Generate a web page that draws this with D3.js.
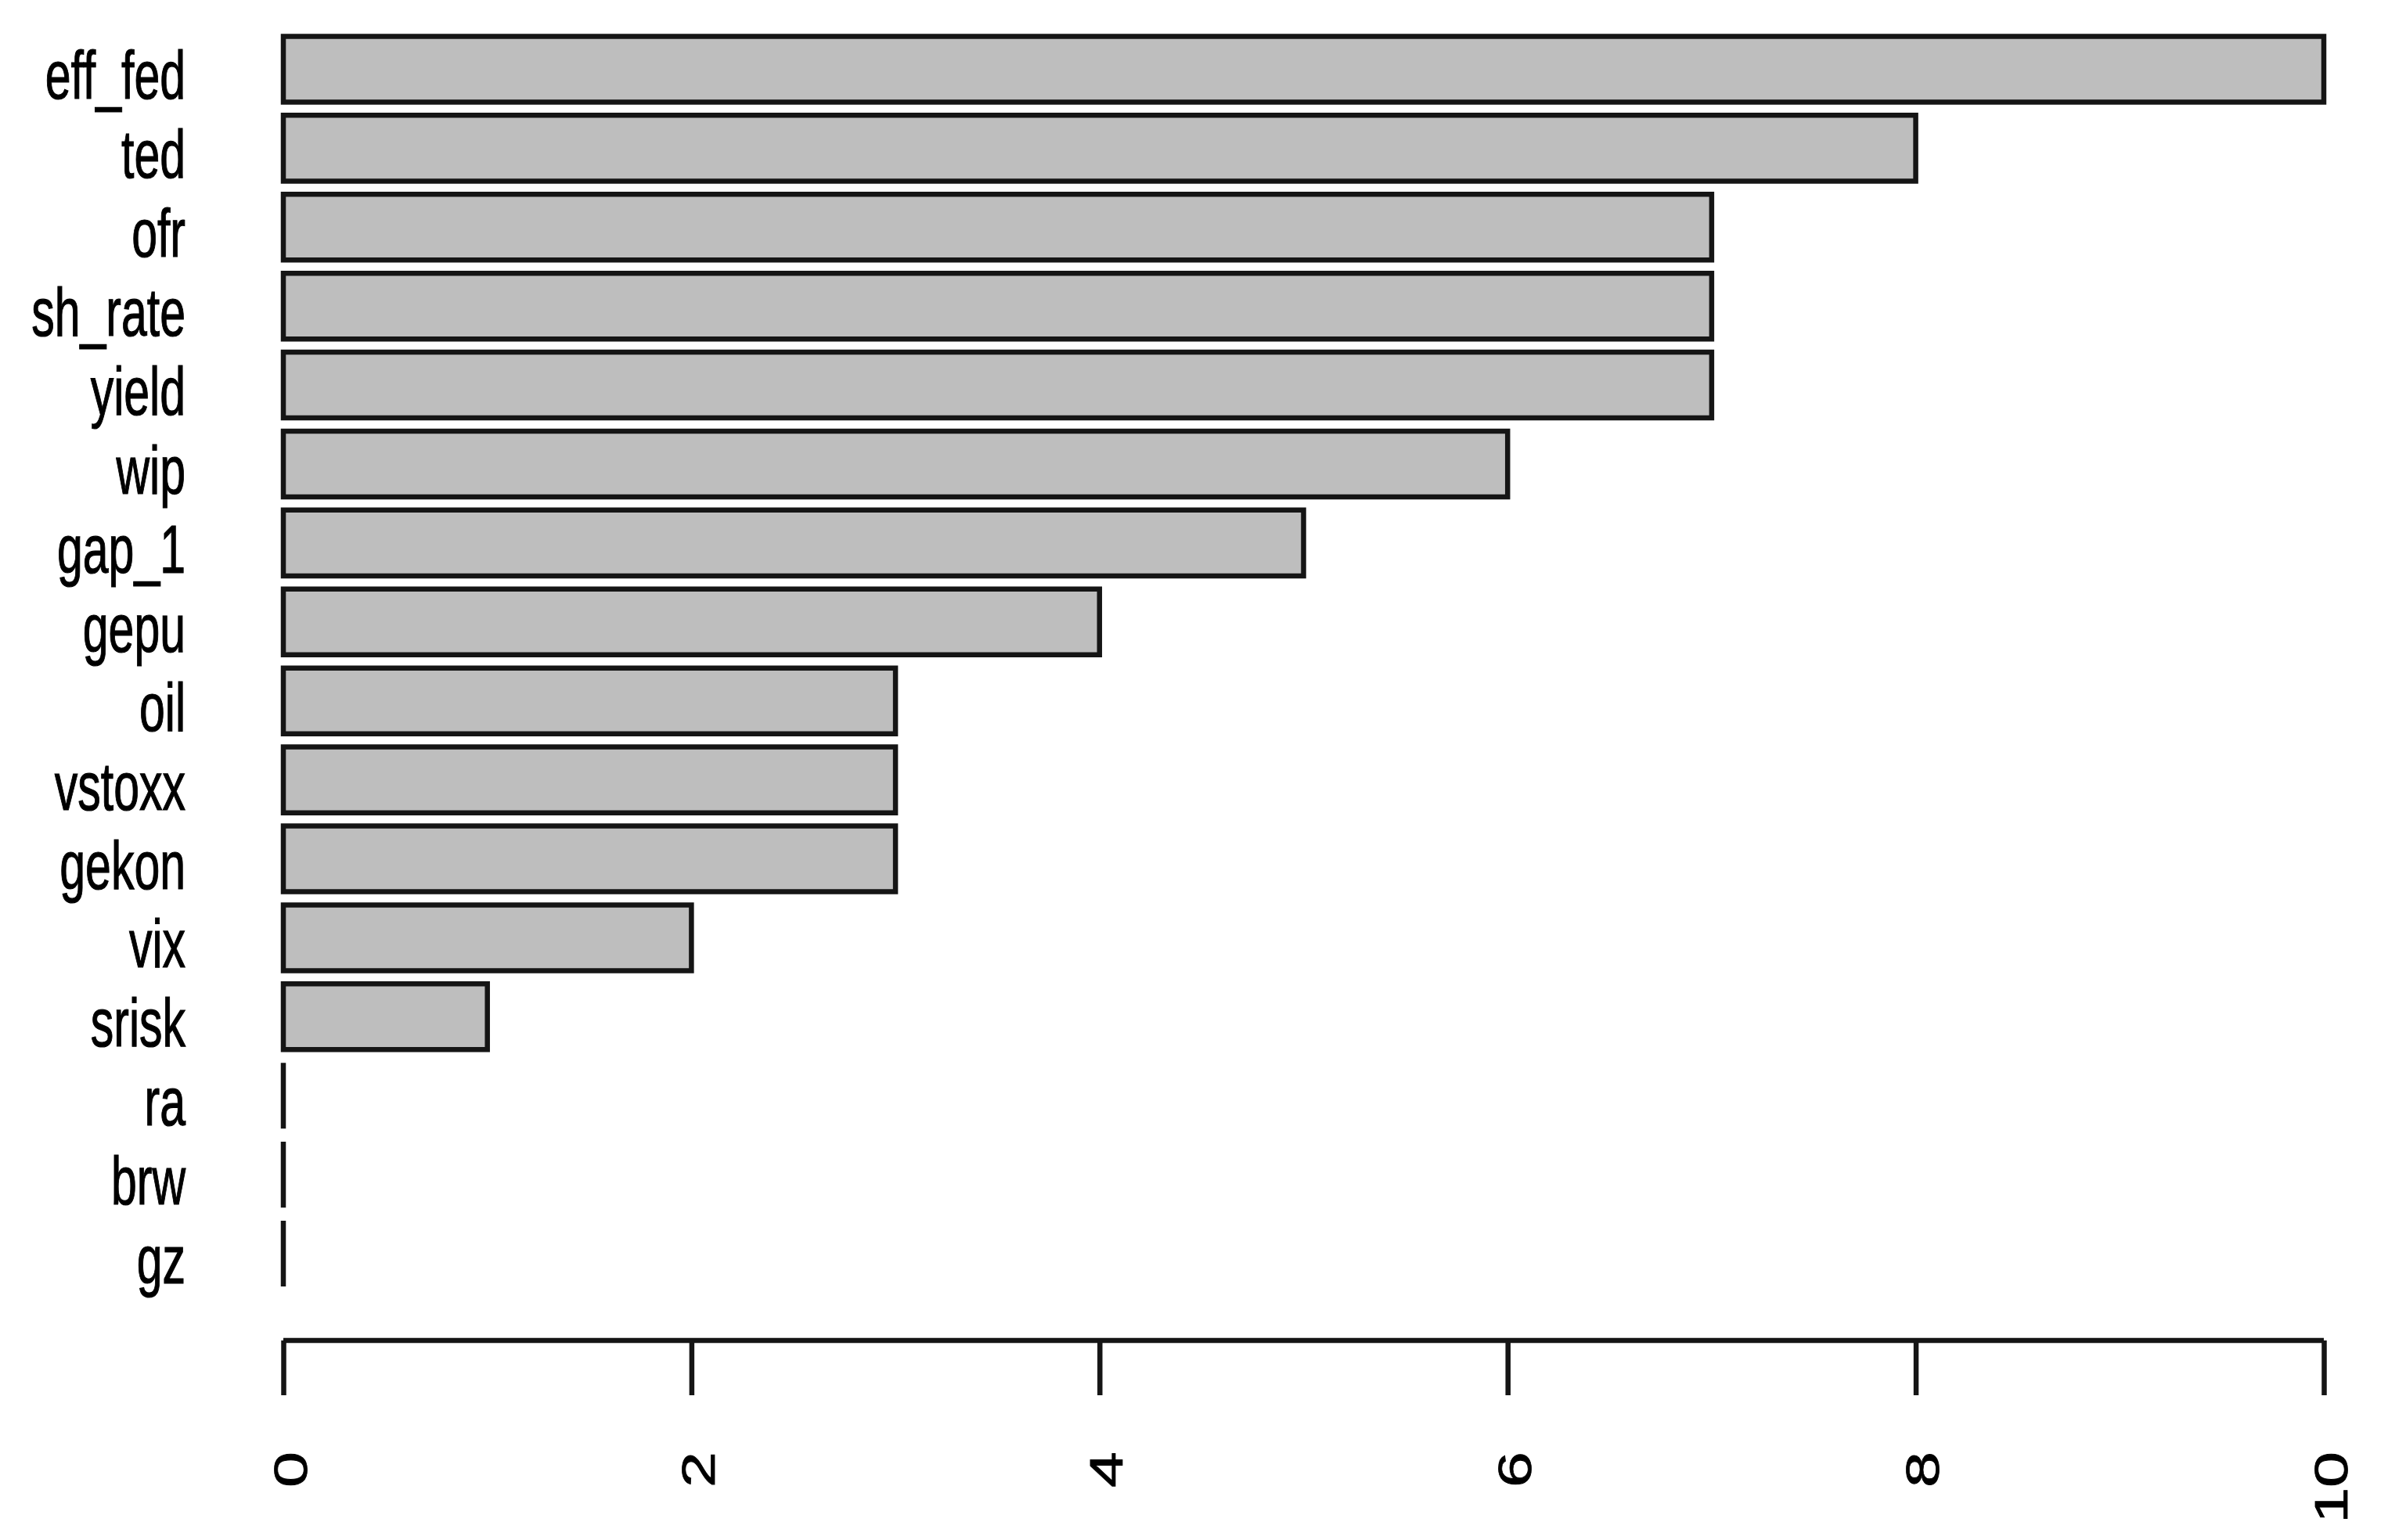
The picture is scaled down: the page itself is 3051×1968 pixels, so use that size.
<!DOCTYPE html>
<html>
<head>
<meta charset="utf-8">
<script src="https://cdn.jsdelivr.net/npm/d3@7"></script>
<style>
  html, body { margin: 0; padding: 0; background: #fff; }
  svg { display: block; }
  text { font-family: "Liberation Sans", Arial, sans-serif; fill: #000; stroke: #000; stroke-width: 0.8px; }
</style>
</head>
<body>
<svg></svg>
<script>
// variables, top to bottom (as in the original barplot)
const names = ["eff_fed", "ted", "ofr", "sh_rate", "yield", "wip", "gap_1", "gepu",
  "oil", "vstoxx", "gekon", "vix", "srisk", "ra", "brw", "gz"];
const counts = [10, 8, 7, 7, 7, 6, 5, 4, 3, 3, 3, 2, 1, 0, 0, 0];
const xTicks = [0, 2, 4, 6, 8, 10];

const WIDTH = 3051,
  HEIGHT = 1968,
  FONT = 59,
  STRETCH = 1.48, // glyphs in the source picture are tall and narrow
  LW = 6.5;

const svg = d3.select("svg").attr("width", WIDTH).attr("height", HEIGHT);

const x = d3.scaleLinear().domain([0, 10]).range([362, 2969]);
const y = d3
  .scaleBand()
  .domain(names)
  .range([38, 1652.5])
  .paddingInner(1 / 6)
  .paddingOuter(1 / 12);

const data = names.map((name, i) => ({ name, value: counts[i] }));

// bars: drawn as paths so that zero counts still show their border
svg
  .append("g")
  .attr("class", "bars")
  .selectAll("path")
  .data(data)
  .enter()
  .append("path")
  .attr("d", d => {
    const x0 = x(0), x1 = x(d.value), y0 = y(d.name), h = y.bandwidth();
    return `M${x0},${y0}H${x1}V${y0 + h}H${x0}Z`;
  })
  .attr("fill", "#bebebe")
  .attr("stroke", "#151515")
  .attr("stroke-width", LW)
  .attr("stroke-linejoin", "miter");

// category labels
svg
  .append("g")
  .attr("class", "labels")
  .selectAll("text")
  .data(data)
  .enter()
  .append("text")
  .attr("transform", d =>
    `translate(237,${y(d.name) + y.bandwidth() / 2 + 38}) scale(1,${STRETCH})`)
  .attr("text-anchor", "end")
  .style("font-size", FONT + "px")
  .text(d => d.name);

// x axis
const axisY = 1713;
const axis = svg
  .append("g")
  .attr("class", "x-axis")
  .attr("transform", `translate(0,${axisY})`)
  .call(d3.axisBottom(x).tickValues(xTicks).tickSize(70).tickSizeOuter(0));

axis.select(".domain")
  .attr("d", `M${x(0)},0H${x(10)}`)
  .attr("stroke", "#151515")
  .attr("stroke-width", LW);
axis.selectAll(".tick line")
  .attr("stroke", "#151515")
  .attr("stroke-width", LW);
axis.selectAll(".tick text")
  .attr("x", null)
  .attr("y", null)
  .attr("dy", null)
  .attr("fill", "#000")
  .attr("text-anchor", "end")
  .attr("font-family", null)
  .attr("font-size", null)
  .style("font-size", FONT + "px")
  .attr("transform", `translate(29,142) rotate(-90) scale(1.4,1)`);
</script>
</body>
</html>
